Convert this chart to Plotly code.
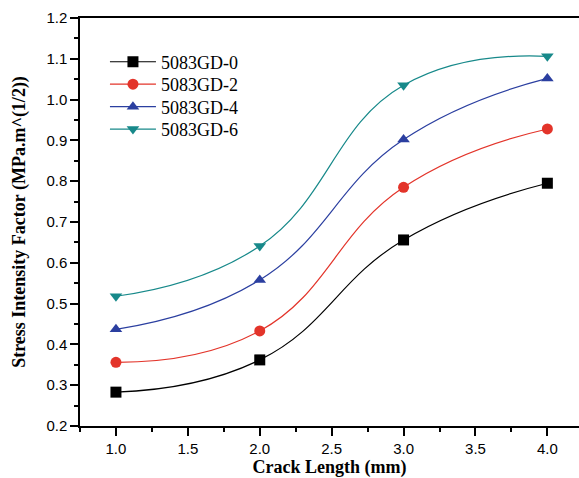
import plotly.graph_objects as go

crack_length = [1.0, 2.0, 3.0, 4.0]
gd0 = [0.283, 0.362, 0.656, 0.795]
gd2 = [0.356, 0.433, 0.785, 0.928]
gd4 = [0.437, 0.558, 0.902, 1.052]
gd6 = [0.518, 0.641, 1.035, 1.106]
series_names = ["5083GD-0", "5083GD-2", "5083GD-4", "5083GD-6"]
x_ticks = [1.0, 1.5, 2.0, 2.5, 3.0, 3.5, 4.0]
y_ticks = [0.2, 0.3, 0.4, 0.5, 0.6, 0.7, 0.8, 0.9, 1.0, 1.1, 1.2]

colors = ["#000000", "#e3342a", "#2b3fa0", "#17898a"]
symbols = ["square", "circle", "triangle-up", "triangle-down"]
legend_ids = ["legend", "legend2", "legend3", "legend4"]
legend_y = [0.892, 0.837, 0.782, 0.727]

fig = go.Figure()
for name, ys, c, s, lid in zip(series_names, [gd0, gd2, gd4, gd6], colors, symbols, legend_ids):
    fig.add_trace(go.Scatter(
        x=crack_length, y=ys, name=name, mode="lines+markers", legend=lid,
        line=dict(color=c, width=1.2, shape="spline", smoothing=1.3),
        marker=dict(color=c, symbol=s, size=11, line=dict(width=0)),
    ))

axis_common = dict(
    showline=True, linecolor="black", linewidth=1.5,
    ticks="outside", ticklen=8, tickwidth=1.5, tickcolor="black",
    showgrid=False, zeroline=False, automargin=False,
    tickfont=dict(family="Liberation Sans, Arial", size=15, color="black"),
)

legend_font = dict(family="Liberation Serif, Times New Roman", size=18, color="black")
legends = {}
for lid, ly in zip(legend_ids, legend_y):
    legends[lid] = dict(x=0.05, y=ly, xanchor="left", yanchor="middle",
                        bgcolor="rgba(0,0,0,0)", font=legend_font, itemwidth=46)

fig.update_layout(
    width=579, height=478,
    margin=dict(l=80, r=0, t=18, b=52),
    paper_bgcolor="white", plot_bgcolor="white",
    showlegend=True,
    **legends,
    xaxis=dict(range=[0.75, 4.22], tickvals=x_ticks, mirror=True,
               ticktext=[f"{v:.1f}" for v in x_ticks],
               minor=dict(ticks="outside", ticklen=4, tickwidth=1.5, tickcolor="black", dtick=0.25, tick0=0.75),
               title=dict(text="<b>Crack Length (mm)</b>", standoff=6,
                          font=dict(family="Liberation Serif, Times New Roman", size=18, color="black")),
               **axis_common),
    yaxis=dict(range=[0.2, 1.2], tickvals=y_ticks, mirror=False,
               ticktext=[f"{v:.1f}" for v in y_ticks],
               minor=dict(ticks="outside", ticklen=4, tickwidth=1.5, tickcolor="black", dtick=0.05, tick0=0.2),
               title=dict(text="<b>Stress Intensity Factor (MPa.m^(1/2))</b>", standoff=16,
                          font=dict(family="Liberation Serif, Times New Roman", size=18, color="black")),
               **axis_common),
)

post = ("document.documentElement.style.margin='0';document.body.style.margin='0';"
        "document.documentElement.style.overflow='hidden';document.body.style.overflow='hidden';")
fig.write_html("out.html", post_script=post, config={"displayModeBar": False})
